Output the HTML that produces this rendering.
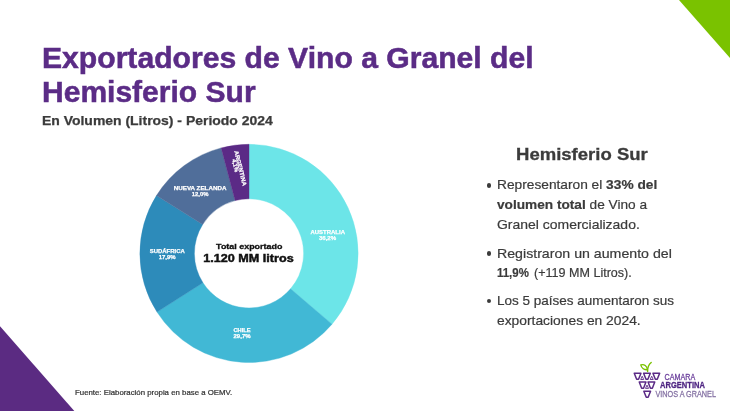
<!DOCTYPE html>
<html lang="es">
<head>
<meta charset="utf-8">
<title>Exportadores de Vino a Granel del Hemisferio Sur</title>
<style>
*{margin:0;padding:0;box-sizing:border-box}
html,body{width:730px;height:411px;overflow:hidden;background:#fff}
body{position:relative;font-family:"Liberation Sans",sans-serif;color:#3a3a3a}
.t{position:absolute;white-space:nowrap;line-height:1;transform-origin:0 0}
.title{font-weight:bold;color:#5b2c86;-webkit-text-stroke:0.5px #5b2c86}
.sub{font-weight:bold;color:#3b3b3b;-webkit-text-stroke:0.25px #3b3b3b}
.h2{font-weight:bold;color:#3b3b3b;-webkit-text-stroke:0.3px #3b3b3b}
.li{color:#3b3b3b;-webkit-text-stroke:0.2px #3b3b3b}
.li b{font-weight:bold}
.dot{position:absolute;width:4.4px;height:4.4px;border-radius:50%;background:#3b3b3b;left:486.8px}
.src{color:#333;-webkit-text-stroke:0.2px #333}
svg{position:absolute;left:0;top:0}
</style>
</head>
<body>
<svg width="730" height="411" viewBox="0 0 730 411">
<polygon points="679,0 730,0 730,58" fill="#7ac200"/>
<polygon points="0,326.3 0,411 74.3,411" fill="#5b2b82"/>
<g id="donut">
<path d="M249.00,144.30 A109.1,109.1 0 0 1 332.02,324.18 L290.55,288.82 A54.6,54.6 0 0 0 249.00,198.80 Z" fill="#6ce5e8" stroke="#6ce5e8" stroke-width="0.4"/>
<path d="M332.02,324.18 A109.1,109.1 0 0 1 157.01,312.06 L202.96,282.75 A54.6,54.6 0 0 0 290.55,288.82 Z" fill="#41b8d5" stroke="#41b8d5" stroke-width="0.4"/>
<path d="M157.01,312.06 A109.1,109.1 0 0 1 156.46,195.61 L202.69,224.48 A54.6,54.6 0 0 0 202.96,282.75 Z" fill="#2d8bba" stroke="#2d8bba" stroke-width="0.4"/>
<path d="M156.46,195.61 A109.1,109.1 0 0 1 221.18,147.91 L235.08,200.61 A54.6,54.6 0 0 0 202.69,224.48 Z" fill="#506e9a" stroke="#506e9a" stroke-width="0.4"/>
<path d="M221.18,147.91 A109.1,109.1 0 0 1 249.00,144.30 L249.00,198.80 A54.6,54.6 0 0 0 235.08,200.61 Z" fill="#5b2a86" stroke="#5b2a86" stroke-width="0.4"/>
<g font-family="Liberation Sans, sans-serif" font-weight="bold" font-size="5.8" fill="#fff" stroke="#fff" stroke-width="0.25" lengthAdjust="spacingAndGlyphs">
<text x="310.5" y="234.3" textLength="34.5" lengthAdjust="spacingAndGlyphs">AUSTRALIA</text><text x="318.9" y="240.1" textLength="17.3" lengthAdjust="spacingAndGlyphs">36,2%</text>
<text x="233.4" y="332.3" textLength="17.2" lengthAdjust="spacingAndGlyphs">CHILE</text><text x="233.5" y="338.2" textLength="17.1" lengthAdjust="spacingAndGlyphs">29,7%</text>
<text x="149.7" y="253" textLength="35.1" lengthAdjust="spacingAndGlyphs">SUDÁFRICA</text><text x="158.7" y="258.6" textLength="17" lengthAdjust="spacingAndGlyphs">17,9%</text>
<text x="173.7" y="190.3" textLength="52.8" lengthAdjust="spacingAndGlyphs">NUEVA ZELANDA</text><text x="191.8" y="196.2" textLength="16.7" lengthAdjust="spacingAndGlyphs">12,0%</text>
<g transform="translate(240.5,168.2) rotate(76)"><text x="-18" y="2.05" textLength="36" lengthAdjust="spacingAndGlyphs">ARGENTINA</text><text x="-10.3" y="6.3" textLength="13" lengthAdjust="spacingAndGlyphs">4,1%</text></g>
</g>
<g font-family="Liberation Sans, sans-serif" font-weight="bold" fill="#111" stroke="#111">
<text x="216.1" y="248.6" font-size="7.6" stroke-width="0.3" textLength="66.3" lengthAdjust="spacingAndGlyphs">Total exportado</text>
<text x="203.3" y="261.7" font-size="10.6" stroke-width="0.45" textLength="90.4" lengthAdjust="spacingAndGlyphs">1.120 MM litros</text>
</g>
</g>
<g id="logo">
<g fill="none" stroke="#5b2a86" stroke-width="1.5" stroke-linejoin="round">
<path d="M634.25,373.15 L640.95,373.15 L638.55,379.25 L636.65,379.25 Z"/>
<path d="M643.60,373.15 L650.30,373.15 L647.90,379.25 L646.00,379.25 Z"/>
<path d="M652.95,373.15 L659.65,373.15 L657.25,379.25 L655.35,379.25 Z"/>
<path d="M639.25,382.05 L645.95,382.05 L643.55,388.15 L641.65,388.15 Z"/>
<path d="M648.05,382.05 L654.75,382.05 L652.35,388.15 L650.45,388.15 Z"/>
<path d="M643.85,391.25 L650.55,391.25 L648.15,397.35 L646.25,397.35 Z"/>
</g>
<g fill="none" stroke="#5b2a86" stroke-width="0.9" stroke-linejoin="round">
<path d="M642.20,376.20 L643.70,379.50 L640.70,379.50 Z"/>
<path d="M651.70,376.20 L653.20,379.50 L650.20,379.50 Z"/>
<path d="M647.00,385.10 L648.50,388.40 L645.50,388.40 Z"/>
</g>
<g fill="none" stroke="#7ac200" stroke-width="1.4" stroke-linecap="round" stroke-linejoin="round">
<path d="M647.6,371.6 C647.5,367.6 648.8,364.4 651.2,362.5"/>
<path d="M647.4,369.8 C644.4,370.0 641.5,368.0 640.8,364.9 C644.2,364.0 647.1,365.8 647.4,369.8 Z"/>
</g>
<g font-family="Liberation Sans, sans-serif" font-size="9.9">
<text x="664.6" y="379.8" fill="#6b3f9c" stroke="#6b3f9c" stroke-width="0.3" textLength="30.7" lengthAdjust="spacingAndGlyphs">CAMARA</text>
<text x="660.1" y="388.2" fill="#4f2683" stroke="#4f2683" stroke-width="0.3" font-size="9.4" font-weight="bold" textLength="44.8" lengthAdjust="spacingAndGlyphs">ARGENTINA</text>
<text x="655.4" y="397.3" fill="#8471a3" stroke="#8471a3" stroke-width="0.3" textLength="60.6" lengthAdjust="spacingAndGlyphs">VINOS A GRANEL</text>
</g></g>
</svg>
<div id="t1" class="t title" style="left:41.9px;top:44.09px;font-size:28.6px;transform:scaleX(1.0535)">Exportadores de Vino a Granel del</div>
<div id="t2" class="t title" style="left:41.9px;top:78.09px;font-size:28.6px;transform:scaleX(1.05)">Hemisferio Sur</div>
<div id="sub" class="t sub" style="left:42px;top:115.42px;font-size:12.5px;transform:scaleX(1.116)">En Volumen (Litros) - Periodo 2024</div>
<div id="h2" class="t h2" style="left:516px;top:145.71px;font-size:17px;transform:scaleX(1.09)">Hemisferio Sur</div>
<div id="l1" class="t li" style="left:497px;top:179.36px;font-size:12.8px;transform:scaleX(1.0725)">Representaron el <b>33% del</b></div>
<div id="l2" class="t li" style="left:497px;top:199.16px;font-size:12.8px;transform:scaleX(1.067)"><b>volumen total</b> de Vino a</div>
<div id="l3" class="t li" style="left:497px;top:219.26px;font-size:12.8px;transform:scaleX(1.091)">Granel comercializado.</div>
<div id="l4" class="t li" style="left:496.5px;top:247.96px;font-size:12.8px;transform:scaleX(1.107)">Registraron un aumento del</div>
<div id="l5a" class="t li" style="left:497.2px;top:267.26px;font-size:12.8px;transform:scaleX(0.895)"><b>11,9%</b></div>
<div id="l5b" class="t li" style="left:533.7px;top:267.26px;font-size:12.8px;transform:scaleX(0.981)">(+119 MM Litros).</div>
<div id="l6" class="t li" style="left:496.5px;top:295.16px;font-size:12.8px;transform:scaleX(1.055)">Los 5 países aumentaron sus</div>
<div id="l7" class="t li" style="left:496.5px;top:314.76px;font-size:12.8px;transform:scaleX(1.08)">exportaciones en 2024.</div>
<div id="src" class="t src" style="left:75px;top:388.87px;font-size:7px;transform:scaleX(1.118)">Fuente: Elaboración propia en base a OEMV.</div>
<div class="dot" style="top:183.2px"></div>
<div class="dot" style="top:251.4px"></div>
<div class="dot" style="top:299.1px"></div>
</body>
</html>
